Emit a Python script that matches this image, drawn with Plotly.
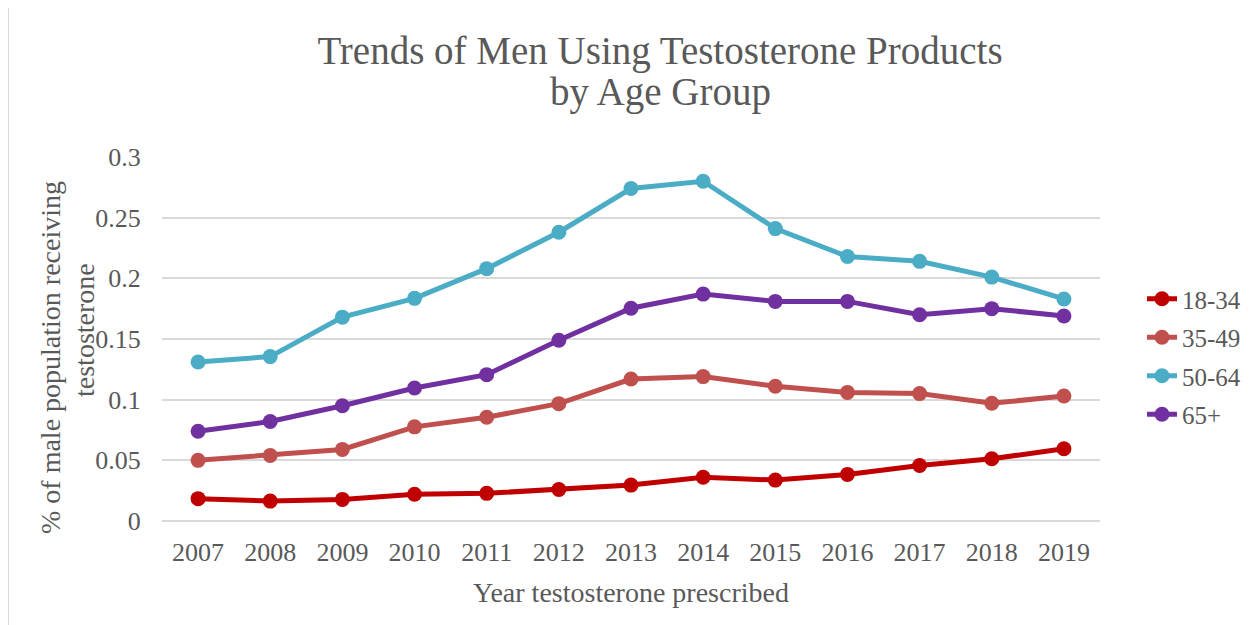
import plotly.graph_objects as go

years = ["2007", "2008", "2009", "2010", "2011", "2012", "2013",
         "2014", "2015", "2016", "2017", "2018", "2019"]
age_18_34 = [0.0184, 0.0164, 0.0178, 0.0220, 0.0228, 0.0260, 0.0296,
             0.0360, 0.0337, 0.0384, 0.0458, 0.0513, 0.0595]
age_35_49 = [0.050, 0.054, 0.059, 0.0776, 0.0855, 0.0967, 0.117,
             0.119, 0.111, 0.106, 0.105, 0.097, 0.103]
age_50_64 = [0.131, 0.1355, 0.168, 0.1835, 0.208, 0.238, 0.274,
             0.280, 0.241, 0.218, 0.214, 0.201, 0.183]
age_65p = [0.074, 0.082, 0.095, 0.1096, 0.1206, 0.149, 0.1754,
           0.187, 0.181, 0.181, 0.170, 0.175, 0.169]

series = [
    ("18-34", age_18_34, "#C00000"),
    ("35-49", age_35_49, "#C0504D"),
    ("50-64", age_50_64, "#4BACC6"),
    ("65+", age_65p, "#7030A0"),
]

FONT = "Liberation Serif"
TXT = "#595959"

fig = go.Figure()
for i, (name, vals, col) in enumerate(series):
    fig.add_trace(go.Scatter(
        x=years, y=vals, name=name, mode="lines+markers",
        line=dict(color=col, width=5),
        marker=dict(color=col, size=15),
        legendgroup=f"g{i}",
    ))

# page offset of the plot div (browser body margin)
OFF = 8
W, H = 1252, 617
# plot area in page pixels: x 162..1100, y 157..521
L = 162 - OFF
T = 157 - OFF
R = W - (1100 - OFF)
B = H - (521 - OFF)
pw, ph = W - L - R, H - T - B


def px_x(p):
    return (p - OFF - L) / pw


def px_y(p):
    return (H - B - (p - OFF)) / ph


fig.update_layout(
    width=W, height=H,
    margin=dict(l=L, r=R, t=T, b=B),
    paper_bgcolor="white", plot_bgcolor="white",
    font=dict(family=FONT, color=TXT, size=26),
    title=dict(
        text="Trends of Men Using Testosterone Products",
        x=(660 - OFF) / W, xanchor="center", xref="container",
        y=1 - (50 - OFF) / H, yanchor="middle", yref="container",
        font=dict(family=FONT, size=39, color=TXT),
    ),
    showlegend=True,
    legend=dict(
        x=px_x(1142), xanchor="left",
        y=px_y(276), yanchor="top",
        font=dict(family=FONT, size=25, color=TXT),
        traceorder="grouped", tracegroupgap=3,
        bgcolor="rgba(0,0,0,0)",
    ),
    xaxis=dict(
        type="category", range=[-0.5, 12.5],
        showgrid=False, showline=False, zeroline=False,
        ticks="outside", ticklen=8, tickcolor="rgba(0,0,0,0)",
        tickfont=dict(family=FONT, size=26, color=TXT),
        title=dict(text="Year testosterone prescribed",
                   font=dict(family=FONT, size=28, color=TXT),
                   standoff=16),
    ),
    yaxis=dict(
        range=[0, 0.3], dtick=0.05, tick0=0,
        showgrid=True, gridcolor="#D9D9D9", gridwidth=1.5,
        zeroline=True, zerolinecolor="#D9D9D9", zerolinewidth=1.5,
        showline=False,
        ticks="outside", ticklen=15, tickcolor="rgba(0,0,0,0)",
        tickfont=dict(family=FONT, size=26, color=TXT),
    ),
    shapes=[dict(
        type="rect", xref="paper", yref="paper",
        x0=px_x(8), x1=px_x(1320), y0=px_y(720), y1=px_y(6),
        line=dict(color="#D9D9D9", width=2), fillcolor="rgba(0,0,0,0)",
        layer="below",
    )],
    annotations=[
        dict(text="by Age Group",
             xref="paper", yref="paper", x=px_x(660), y=px_y(92),
             xanchor="center", yanchor="middle", showarrow=False,
             font=dict(family=FONT, size=39, color=TXT)),
        dict(text="% of male population receiving", textangle=-90,
             xref="paper", yref="paper", x=px_x(50), y=px_y(358),
             xanchor="center", yanchor="middle", showarrow=False,
             font=dict(family=FONT, size=28, color=TXT)),
        dict(text="testosterone", textangle=-90,
             xref="paper", yref="paper", x=px_x(84), y=px_y(330),
             xanchor="center", yanchor="middle", showarrow=False,
             font=dict(family=FONT, size=28, color=TXT)),
    ],
)

fig.write_html("out.html")
